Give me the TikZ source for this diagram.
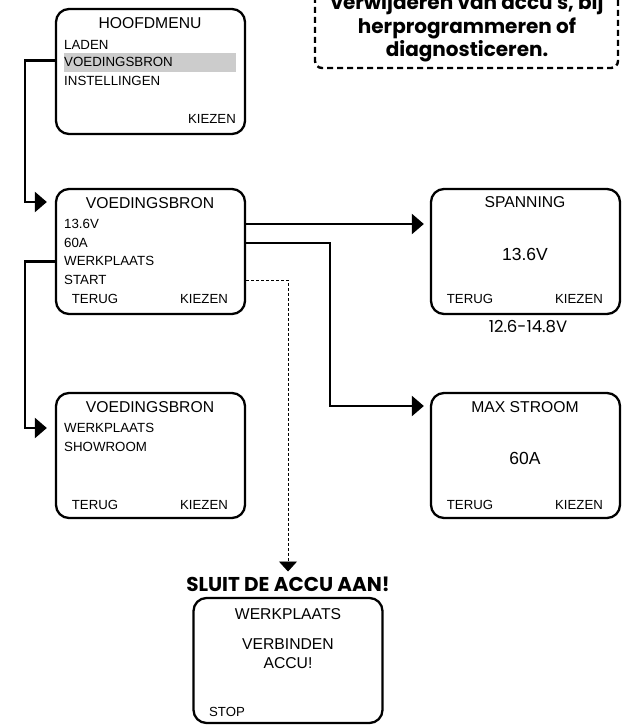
\documentclass[tikz,border=0pt]{standalone}
\usepackage{fontspec}
\setmainfont{Liberation Sans}
\newfontfamily\headfont{Poppins}
\newfontfamily\rangefont{Poppins}
\usetikzlibrary{arrows.meta,calc}
\tikzset{
  x=1pt,y=-1pt,
  screen/.style={draw=black,line width=2.3pt,rounded corners=13pt,minimum width=189pt,minimum height=125pt,inner sep=0pt,fill=white},
  ttl/.style={font=\fontsize{15.7}{18}\selectfont,inner sep=0pt,anchor=center},
  item/.style={font=\fontsize{13.3}{15}\selectfont,inner sep=0pt,anchor=west},
  bigval/.style={font=\fontsize{17.5}{20}\selectfont,inner sep=0pt,anchor=center},
  soft/.style={font=\fontsize{13.2}{15}\selectfont,inner sep=0pt,anchor=center},
  link/.style={draw=black,line width=2.4pt,-{Triangle[length=12pt,width=20pt]}},
  dlink/.style={draw=black,line width=0.9pt,dash pattern=on 3pt off 2pt,-{Triangle[length=10pt,width=18pt]}},
  warn/.style={font=\headfont\bfseries\fontsize{20}{22}\selectfont,inner sep=0pt,anchor=center},
}
\begin{document}
\begin{tikzpicture}
\useasboundingbox (0,0) rectangle (626,727);
\clip (0,0) rectangle (626,727);
% note
\draw[black,line width=2.4pt,dash pattern=on 6pt off 4pt,rounded corners=7pt] (315,-20) rectangle (618,68);
\node[warn] (n1) at (467,4) {verwijderen van accu's, bij};
\node[warn] (n2) at (467,28) {herprogrammeren of};
\node[warn] (n3) at (467,51) {diagnosticeren.};
% screens
\node[screen] (hoofd) at (150.5,71.5) {};
\node[screen] (voed) at (150.5,251.5) {};
\node[screen] (plaats) at (150.5,455.5) {};
\node[screen] (span) at (525.5,251.5) {};
\node[screen] (stroom) at (525.5,455.5) {};
\node[screen] (accu) at (288,660.5) {};
% highlight
\fill[black!20] (64,53) rectangle (236,72);
% hoofdmenu
\node[ttl] (h0) at (150,23) {HOOFDMENU};
\node[item] (h1) at (64,44.5) {LADEN};
\node[item] (h2) at (64,62) {VOEDINGSBRON};
\node[item] (h3) at (64,81) {INSTELLINGEN};
\node[soft,anchor=east] (h4) at (236,119) {KIEZEN};
% voedingsbron
\node[ttl] (v0) at (150,203) {VOEDINGSBRON};
\node[item] (v1) at (64,224) {13.6V};
\node[item] (v2) at (64,243) {60A};
\node[item] (v3) at (64,261) {WERKPLAATS};
\node[item] (v4) at (64,280) {START};
\node[soft] (v5) at (95,299) {TERUG};
\node[soft] (v6) at (204,299) {KIEZEN};
% plaats
\node[ttl] (p0) at (150,407) {VOEDINGSBRON};
\node[item] (p1) at (64,428) {WERKPLAATS};
\node[item] (p2) at (64,447) {SHOWROOM};
\node[soft] (p3) at (95,505) {TERUG};
\node[soft] (p4) at (204,505) {KIEZEN};
% spanning
\node[ttl] (s0) at (525,202) {SPANNING};
\node[bigval] (s1) at (525,254) {13.6V};
\node[soft] (s2) at (470,299) {TERUG};
\node[soft] (s3) at (579,299) {KIEZEN};
\node[font=\rangefont\fontsize{16.5}{18}\selectfont,inner sep=0pt] (s4) at (528,327) {12.6-14.8V};
% stroom
\node[ttl] (m0) at (525,407) {MAX STROOM};
\node[bigval] (m1) at (525,458) {60A};
\node[soft] (m2) at (470,505) {TERUG};
\node[soft] (m3) at (579,505) {KIEZEN};
% accu
\node[warn] (a9) at (288,584) {SLUIT DE ACCU AAN!};
\node[ttl] (a0) at (288,614) {WERKPLAATS};
\node[ttl] (a1) at (288,644) {VERBINDEN};
\node[ttl] (a2) at (288,663) {ACCU!};
\node[soft] (a3) at (227,712) {STOP};
% connectors
\coordinate (ho) at ($(hoofd.west)+(0,-11)$);
\coordinate (vi) at ($(voed.west)+(-8,-49.5)$);
\draw[link] (ho) -- (25,60.5) -- (25,202) -- (vi);
\coordinate (vl) at ($(voed.west)+(0,10)$);
\coordinate (pi) at ($(plaats.west)+(-8,-27.5)$);
\draw[link] (vl) -- (25,261.5) -- (25,428) -- (pi);
\coordinate (va) at ($(voed.east)+(0,-27.5)$);
\coordinate (sa) at ($(span.west)+(-6,-27.5)$);
\draw[link] (va) -- (sa);
\coordinate (vb) at ($(voed.east)+(0,-8.5)$);
\coordinate (mi) at ($(stroom.west)+(-6,-49.5)$);
\draw[link] (vb) -- (330,243) -- (330,406) -- (mi);
\coordinate (vc) at ($(voed.east)+(0,28.5)$);
\coordinate (ai) at (288,571.5);
\draw[dlink] (vc) -- (288,280) -- (ai);
\end{tikzpicture}
\end{document}
